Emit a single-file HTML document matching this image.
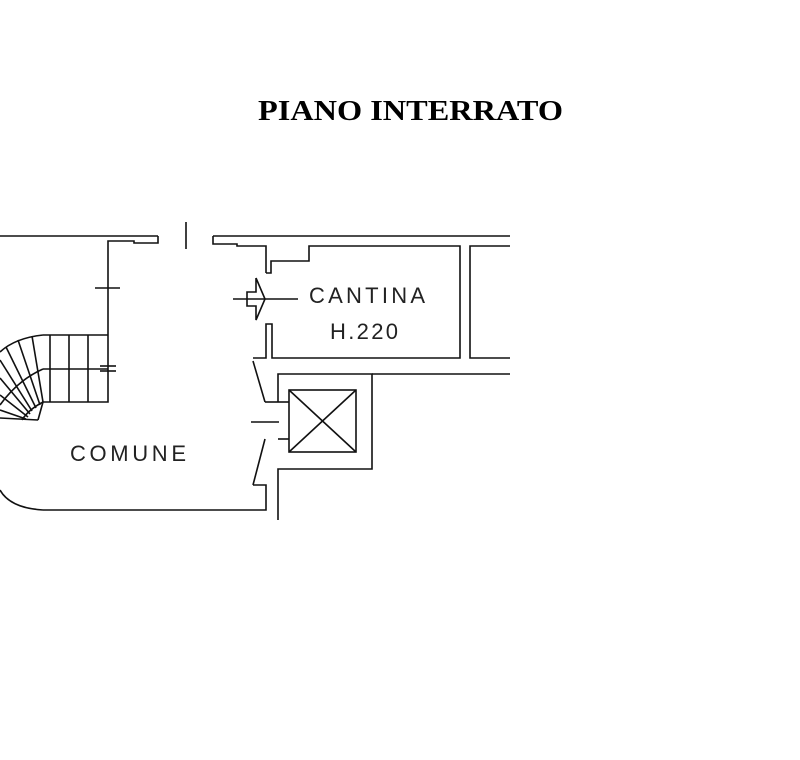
<!DOCTYPE html>
<html><head><style>body{margin:0;background:#fff}svg{display:block}</style></head>
<body>
<svg width="800" height="760" viewBox="0 0 800 760" xmlns="http://www.w3.org/2000/svg">
<rect width="800" height="760" fill="#fff"/>
<text x="258" y="120" textLength="305" lengthAdjust="spacingAndGlyphs" font-family="Liberation Serif, serif" font-weight="bold" font-size="29">PIANO INTERRATO</text>
<g stroke="#111" stroke-width="1.6" fill="none">
<polyline points="0,236 158,236"/>
<polyline points="213,236 510,236"/>
<line x1="186" y1="222" x2="186" y2="249"/>
<polyline points="108,335 108,241 134,241 134,243 158,243 158,236"/>
<polyline points="213,236 213,244 237,244 237,246 266,246 266,273"/>
<line x1="95" y1="288" x2="120" y2="288"/>
<polyline points="266,273 271,273 271,261 309,261 309,246 460,246 460,358 272,358 272,324 266,324 266,358 253,358"/>
<polyline points="510,246 470,246 470,358 510,358"/>
<line x1="233" y1="299" x2="298" y2="299"/>
<polyline points="256,278 256,292 247,292 247,306 256,306 256,320 265,299 256,278"/>
<line x1="253" y1="361" x2="265" y2="402"/>
<polyline points="265,402 278,402"/>
<polyline points="278,402 278,374 372,374 372,469 278,469 278,520"/>
<line x1="372" y1="374" x2="510" y2="374"/>
<polyline points="278,439 289,439"/>
<polyline points="278,402 289,402"/>
<rect x="289" y="390" width="67" height="62"/>
<line x1="289" y1="390" x2="356" y2="452"/>
<line x1="356" y1="390" x2="289" y2="452"/>
<line x1="251" y1="422" x2="279" y2="422"/>
<line x1="265" y1="439" x2="253" y2="485"/>
<polyline points="253,485 266,485 266,510 43,510"/>
<path d="M43,510 Q10,508 0,490"/>
<polyline points="108,335 43,335"/>
<line x1="43" y1="369" x2="108" y2="369"/>
<polyline points="108,335 108,402 43,402"/>
<line x1="50" y1="335" x2="50" y2="402"/>
<line x1="69" y1="335" x2="69" y2="402"/>
<line x1="88" y1="335" x2="88" y2="402"/>
<line x1="100" y1="366" x2="116" y2="366"/>
<line x1="100" y1="371" x2="116" y2="371"/>
<path d="M43,335 Q15,338 0,352"/>
<path d="M43,369 Q18,380 0,405"/>
<path d="M43,402 Q28,410 22,420"/>
<line x1="43" y1="402" x2="38" y2="420"/>
<line x1="32" y1="336" x2="43" y2="402"/>
<line x1="18" y1="340" x2="40" y2="405"/>
<line x1="6" y1="347" x2="36" y2="408"/>
<line x1="0" y1="360" x2="32" y2="411"/>
<line x1="0" y1="378" x2="30" y2="414"/>
<line x1="0" y1="395" x2="28" y2="417"/>
<line x1="0" y1="410" x2="26" y2="419"/>
<line x1="0" y1="418" x2="38" y2="420"/>
</g>
<g font-family="Liberation Sans, sans-serif" fill="#222" font-size="22">
<text x="70" y="461" textLength="116">COMUNE</text>
<text x="309" y="303" textLength="116">CANTINA</text>
<text x="330" y="339" textLength="68">H.220</text>
</g>
</svg>
</body></html>
